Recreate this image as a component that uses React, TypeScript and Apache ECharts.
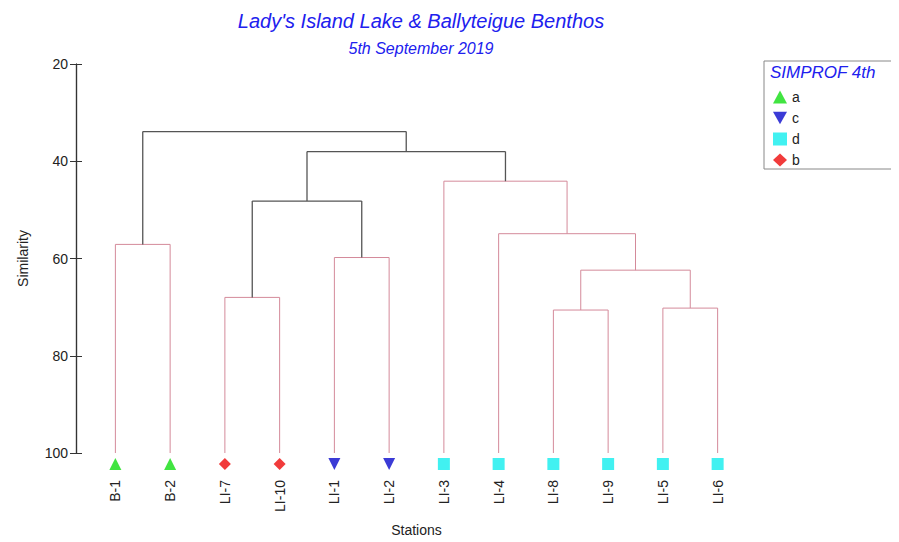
import React, { useEffect, useRef } from "react";
import * as echarts from "echarts";

const leaves = ["B-1", "B-2", "LI-7", "LI-10", "LI-1", "LI-2", "LI-3", "LI-4", "LI-8", "LI-9", "LI-5", "LI-6"];
// [childA, childB, similarity, dark]  (node ids: 0-11 leaves, 12+ merges)
const merges: [number, number, number, boolean][] = [
  [0, 1, 57.1, false],
  [2, 3, 68.0, false],
  [4, 5, 59.8, false],
  [8, 9, 70.6, false],
  [10, 11, 70.2, false],
  [15, 16, 62.4, false],
  [7, 17, 54.9, false],
  [6, 18, 44.1, false],
  [13, 14, 48.2, true],
  [20, 19, 38.0, true],
  [12, 21, 33.9, true],
];
const groups = [
  { name: "a", symbol: "triangle", color: "#11dd11", members: ["B-1", "B-2"] },
  { name: "c", symbol: "path://M0,0L10,0L5,9Z", color: "#0a0acc", members: ["LI-1", "LI-2"] },
  { name: "d", symbol: "rect", color: "#11eeee", members: ["LI-3", "LI-4", "LI-8", "LI-9", "LI-5", "LI-6"] },
  { name: "b", symbol: "diamond", color: "#ee0a0a", members: ["LI-7", "LI-10"] },
];

export default function App() {
  const ref = useRef<HTMLDivElement>(null);
  useEffect(() => {
    const chart = echarts.init(ref.current!, null, { renderer: "svg" });
    const nx: number[] = leaves.map((_, i) => i);
    const nh: number[] = leaves.map(() => 100);
    const segs: any[] = [];
    merges.forEach(([a, b, h, dark]) => {
      const c = dark ? 1 : 0;
      segs.push([nx[a], nh[a], nx[a], h, c]);
      segs.push([nx[b], nh[b], nx[b], h, c]);
      segs.push([nx[a], h, nx[b], h, c]);
      nx.push((nx[a] + nx[b]) / 2);
      nh.push(h);
    });
    const font = "'Liberation Sans', Arial, sans-serif";
    const yBase = (extra: any) => ({
      type: "value", inverse: true, min: 20, max: 100, interval: 20, position: "left", offset: 12,
      splitLine: { show: false },
      axisLine: { show: true, onZero: false, lineStyle: { color: "#333", width: 1.2 } },
      ...extra,
    });
    chart.setOption({
      animation: false,
      textStyle: { fontFamily: font },
      title: [
        { text: "Lady's Island Lake & Ballyteigue Benthos", left: 408, top: -2, textAlign: "center",
          textStyle: { color: "#2020ee", fontStyle: "italic", fontWeight: "normal", fontSize: 20, fontFamily: font } },
        { text: "5th September 2019", left: 408, top: 27, textAlign: "center",
          textStyle: { color: "#2020ee", fontStyle: "italic", fontWeight: "normal", fontSize: 16, fontFamily: font } },
      ],
      grid: { left: 73, width: 664, top: 56, height: 392 },
      xAxis: [
        { type: "category", data: leaves, boundaryGap: true, axisLine: { show: false }, axisTick: { show: false },
          axisLabel: { rotate: 90, margin: 27, color: "#222", fontSize: 14 },
          name: "Stations", nameLocation: "middle", nameGap: 70, nameTextStyle: { color: "#222", fontSize: 14 } },
        { type: "value", min: -0.5, max: 11.5, show: false },
      ],
      yAxis: [
        yBase({ name: "Similarity", nameLocation: "middle", nameGap: 46, nameRotate: 90,
          nameTextStyle: { color: "#222", fontSize: 14 },
          axisTick: { show: true, length: 6, lineStyle: { color: "#333" } },
          axisLabel: { color: "#222", fontSize: 14, margin: 8 } }),
        yBase({ axisTick: { show: true, inside: true, length: 6, lineStyle: { color: "#333" } }, axisLabel: { show: false } }),
      ],
      legend: {
        orient: "vertical", left: 760, top: 77, itemGap: 7, itemWidth: 14, itemHeight: 13,
        textStyle: { color: "#222", fontSize: 14 }, data: groups.map((g) => g.name),
      },
      graphic: [
        { type: "rect", shape: { x: 756, y: 53, width: 150, height: 108 }, style: { fill: "#fff", stroke: "#888", lineWidth: 1 }, z: -1 },
        { type: "text", x: 762, y: 56, style: { text: "SIMPROF 4th", fill: "#2020ee", fontSize: 17, fontStyle: "italic", fontFamily: font } },
      ],
      series: [
        {
          type: "custom", xAxisIndex: 1, yAxisIndex: 0, data: segs,
          renderItem: (params: any, api: any) => {
            const p1 = api.coord([api.value(0), api.value(1)]);
            const p2 = api.coord([api.value(2), api.value(3)]);
            const dark = api.value(4) === 1;
            return { type: "line", shape: { x1: p1[0], y1: p1[1], x2: p2[0], y2: p2[1] },
              style: { stroke: dark ? "#555" : "#d48a9a", lineWidth: dark ? 1.3 : 1 } };
          },
        },
        ...groups.map((g) => ({
          type: "scatter", name: g.name, xAxisIndex: 0, yAxisIndex: 0, symbol: g.symbol, symbolSize: 12,
          symbolOffset: [0, 11], itemStyle: { color: g.color },
          data: g.members.map((m) => [m, 100]),
        })),
      ],
    });
    return () => chart.dispose();
  }, []);
  return <div ref={ref} style={{ width: 891, height: 534 }} />;
}
